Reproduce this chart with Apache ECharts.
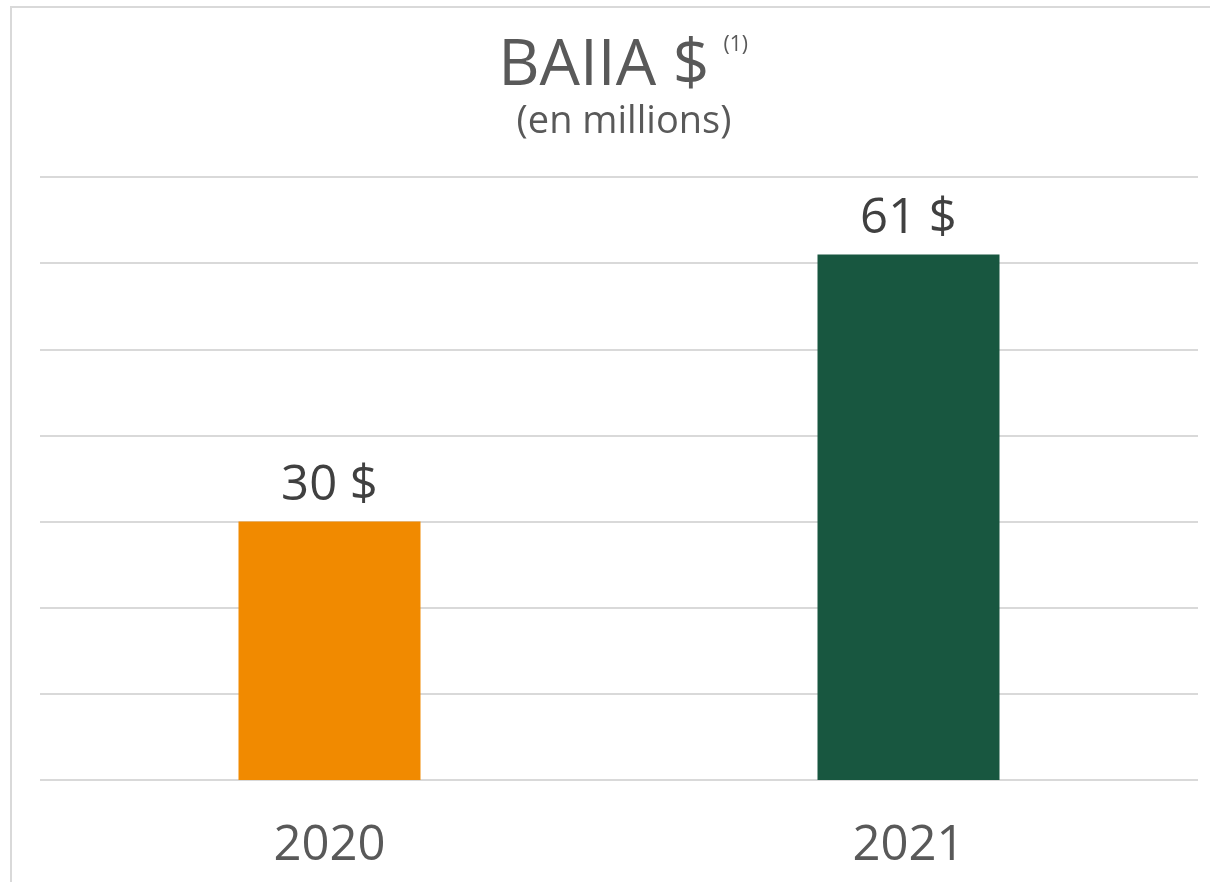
<!DOCTYPE html>
<html>
<head>
<meta charset="utf-8">
<script src="https://cdn.jsdelivr.net/npm/echarts@6/dist/echarts.min.js"></script>
<style>
  html, body { margin: 0; padding: 0; background: #fff; }
  #chart { width: 1210px; height: 882px; }
</style>
</head>
<body>
<div id="chart"></div>
<script>
const years = ['2020', '2021']
const baiia = [30, 61]
const barColors = ['#F18A00', '#185740']

const chart = echarts.init(document.getElementById('chart'))

const font = '"Open Sans", "Noto Sans", sans-serif'

chart.setOption({
  animation: false,
  textStyle: { fontFamily: font },
  graphic: [
    {
      type: 'rect',
      shape: { x: 11, y: 7, width: 1400, height: 1000 },
      style: { fill: 'none', stroke: '#d9d9d9', lineWidth: 2 },
      silent: true
    }
  ],
  title: [
    {
      left: 618,
      textAlign: 'center',
      top: 30,
      text: '{main|BAIIA $}   {sup|(1)}',
      textStyle: {
        fontWeight: 'normal',
        rich: {
          main: { fontSize: 64, fontWeight: 'normal', color: '#595959', fontFamily: font, verticalAlign: 'bottom' },
          sup: { fontSize: 21, fontWeight: 'normal', color: '#595959', fontFamily: font, verticalAlign: 'top', padding: [0, 0, 32, 0] }
        }
      }
    },
    {
      left: 619,
      textAlign: 'center',
      top: 98,
      text: '(en millions)',
      textStyle: { fontSize: 38, fontWeight: 'normal', color: '#595959', fontFamily: font }
    }
  ],
  grid: { left: 40, right: 12, top: 177, bottom: 102 },
  xAxis: {
    type: 'category',
    data: years,
    axisLine: { show: false },
    axisTick: { show: false },
    axisLabel: { fontSize: 49, color: '#595959', margin: 42, fontFamily: font }
  },
  yAxis: {
    type: 'value',
    min: 0,
    max: 70,
    interval: 10,
    axisLabel: { show: false },
    axisLine: { show: false },
    axisTick: { show: false },
    splitLine: { lineStyle: { color: '#d9d9d9', width: 2 } }
  },
  series: [
    {
      type: 'bar',
      barWidth: 182,
      data: baiia.map((v, i) => ({ value: v, itemStyle: { color: barColors[i] } })),
      label: {
        show: true,
        position: 'top',
        distance: 11,
        fontSize: 49,
        color: '#404040',
        fontFamily: font,
        formatter: p => p.value + ' $'
      }
    }
  ]
})
</script>
</body>
</html>
